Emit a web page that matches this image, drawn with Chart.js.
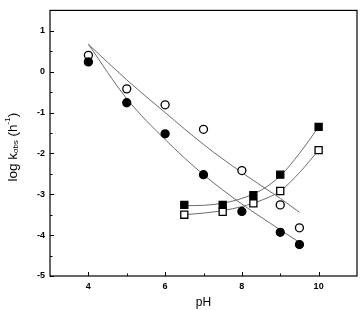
<!DOCTYPE html>
<html>
<head>
<meta charset="utf-8">
<script src="https://cdn.jsdelivr.net/npm/chart.js@4.4.1/dist/chart.umd.min.js"></script>
<style>
  html, body { margin: 0; padding: 0; background: #fff; }
  #wrap { width: 364px; height: 310px; }
</style>
</head>
<body>
<div id="wrap"><canvas id="chart"></canvas></div>
<script>
// measured points
const circlePH = [4, 5, 6, 7, 8, 9, 9.5];
const filledCircle = [0.24, -0.76, -1.52, -2.52, -3.42, -3.93, -4.23];
const openCircle = [0.40, -0.42, -0.81, -1.41, -2.42, -3.26, -3.82];
const squarePH = [6.5, 7.5, 8.3, 9, 10];
const filledSquare = [-3.26, -3.26, -3.02, -2.52, -1.35];
const openSquare = [-3.5, -3.43, -3.22, -2.92, -1.92];

// fitted curves
const fitCirclePH = [4, 5, 6, 7, 8, 9, 9.5];
const fitFilledCircle = [0.67, -0.66, -1.66, -2.52, -3.24, -3.87, -4.18];
const fitOpenCircle = [0.67, -0.2, -1.0, -1.78, -2.47, -3.1, -3.44];
const fitSquarePH = [6.5, 7, 7.5, 8, 8.5, 9, 9.5, 10];
const fitFilledSquare = [-3.28, -3.27, -3.22, -3.1, -2.9, -2.55, -2.0, -1.35];
const fitOpenSquare = [-3.5, -3.46, -3.4, -3.3, -3.15, -2.92, -2.47, -1.92];

// axes
const xTicks = [4, 6, 8, 10];
const xMinor = [5, 7, 9];
const yTicks = [-5, -4, -3, -2, -1, 0, 1];
const yMinor = [-4.5, -3.5, -2.5, -1.5, -0.5, 0.5];

const FONT = "'Liberation Sans', Arial, sans-serif";

function pts(xs, ys) {
    return xs.map(function (x, i) { return { x: x, y: ys[i] }; });
}

function markers(xs, ys, style, filled, r) {
    return {
        data: pts(xs, ys),
        pointStyle: style,
        pointRadius: r,
        pointBackgroundColor: filled ? '#000' : '#fff',
        pointBorderColor: '#000',
        pointBorderWidth: 1.3,
        showLine: false,
        order: 0
    };
}

function curve(xs, ys) {
    return {
        data: pts(xs, ys),
        showLine: true,
        pointRadius: 0,
        borderColor: '#6a6a6a',
        borderWidth: 1,
        cubicInterpolationMode: 'monotone',
        order: 1
    };
}

// box, inward ticks and the y title with sub/superscripts
const frame = {
    id: 'frame',
    afterDraw(chart) {
        const ctx = chart.ctx;
        const a = chart.chartArea;
        const sx = chart.scales.x, sy = chart.scales.y;
        ctx.save();
        ctx.strokeStyle = '#000';
        ctx.lineWidth = 1.2;
        ctx.strokeRect(a.left, a.top, a.right - a.left, a.bottom - a.top);

        ctx.lineWidth = 1;
        ctx.beginPath();
        xTicks.concat(xMinor).forEach(function (v) {
            const px = Math.round(sx.getPixelForValue(v)) + 0.5;
            const len = xTicks.includes(v) ? 4 : 2.5;
            ctx.moveTo(px, a.bottom);
            ctx.lineTo(px, a.bottom - len);
        });
        yTicks.concat(yMinor).forEach(function (v) {
            const py = Math.round(sy.getPixelForValue(v)) + 0.5;
            const len = yTicks.includes(v) ? 4 : 2.5;
            ctx.moveTo(a.left, py);
            ctx.lineTo(a.left + len, py);
        });
        ctx.stroke();

        // y title
        const parts = [
            { t: 'log k', size: 13.5, dy: 0 },
            { t: 'obs', size: 8, dy: 3 },
            { t: ' (h', size: 13.5, dy: 0 },
            { t: '-1', size: 8, dy: -5 },
            { t: ')', size: 13.5, dy: 0 }
        ];
        let total = 0;
        parts.forEach(function (p) {
            ctx.font = p.size + 'px ' + FONT;
            p.w = ctx.measureText(p.t).width;
            total += p.w;
        });
        ctx.translate(13, (a.top + a.bottom) / 2 + 4);
        ctx.rotate(-Math.PI / 2);
        ctx.fillStyle = '#000';
        ctx.textBaseline = 'middle';
        let x = -total / 2;
        parts.forEach(function (p) {
            ctx.font = p.size + 'px ' + FONT;
            ctx.fillText(p.t, x, p.dy);
            x += p.w;
        });
        ctx.restore();
    }
};

new Chart(document.getElementById('chart'), {
    type: 'scatter',
    data: {
        datasets: [
            markers(circlePH, filledCircle, 'circle', true, 4),
            markers(circlePH, openCircle, 'circle', false, 4),
            markers(squarePH, filledSquare, 'rect', true, 5),
            markers(squarePH, openSquare, 'rect', false, 5),
            curve(fitCirclePH, fitFilledCircle),
            curve(fitCirclePH, fitOpenCircle),
            curve(fitSquarePH, fitFilledSquare),
            curve(fitSquarePH, fitOpenSquare)
        ]
    },
    plugins: [frame],
    options: {
        responsive: true,
        maintainAspectRatio: false,
        animation: false,
        layout: { padding: { top: 7, right: 7, left: 0, bottom: 0 } },
        plugins: {
            legend: { display: false },
            tooltip: { enabled: false }
        },
        scales: {
            x: {
                type: 'linear',
                min: 3,
                max: 11,
                afterBuildTicks: function (s) { s.ticks = xTicks.map(function (v) { return { value: v }; }); },
                afterFit: function (s) { s.height = 34; },
                grid: { display: false, drawTicks: false },
                border: { display: false },
                ticks: { color: '#000', padding: 5, font: { family: FONT, size: 9, weight: 'bold' } },
                title: {
                    display: true,
                    text: 'pH',
                    color: '#000',
                    font: { family: FONT, size: 12 },
                    padding: { top: 2, bottom: 0 }
                }
            },
            y: {
                min: -5,
                max: 1.5,
                afterBuildTicks: function (s) { s.ticks = yTicks.map(function (v) { return { value: v }; }); },
                afterFit: function (s) { s.width = 50; },
                grid: { display: false, drawTicks: false },
                border: { display: false },
                ticks: { color: '#000', padding: 5, font: { family: FONT, size: 9, weight: 'bold' } }
            }
        }
    }
});
</script>
</body>
</html>
